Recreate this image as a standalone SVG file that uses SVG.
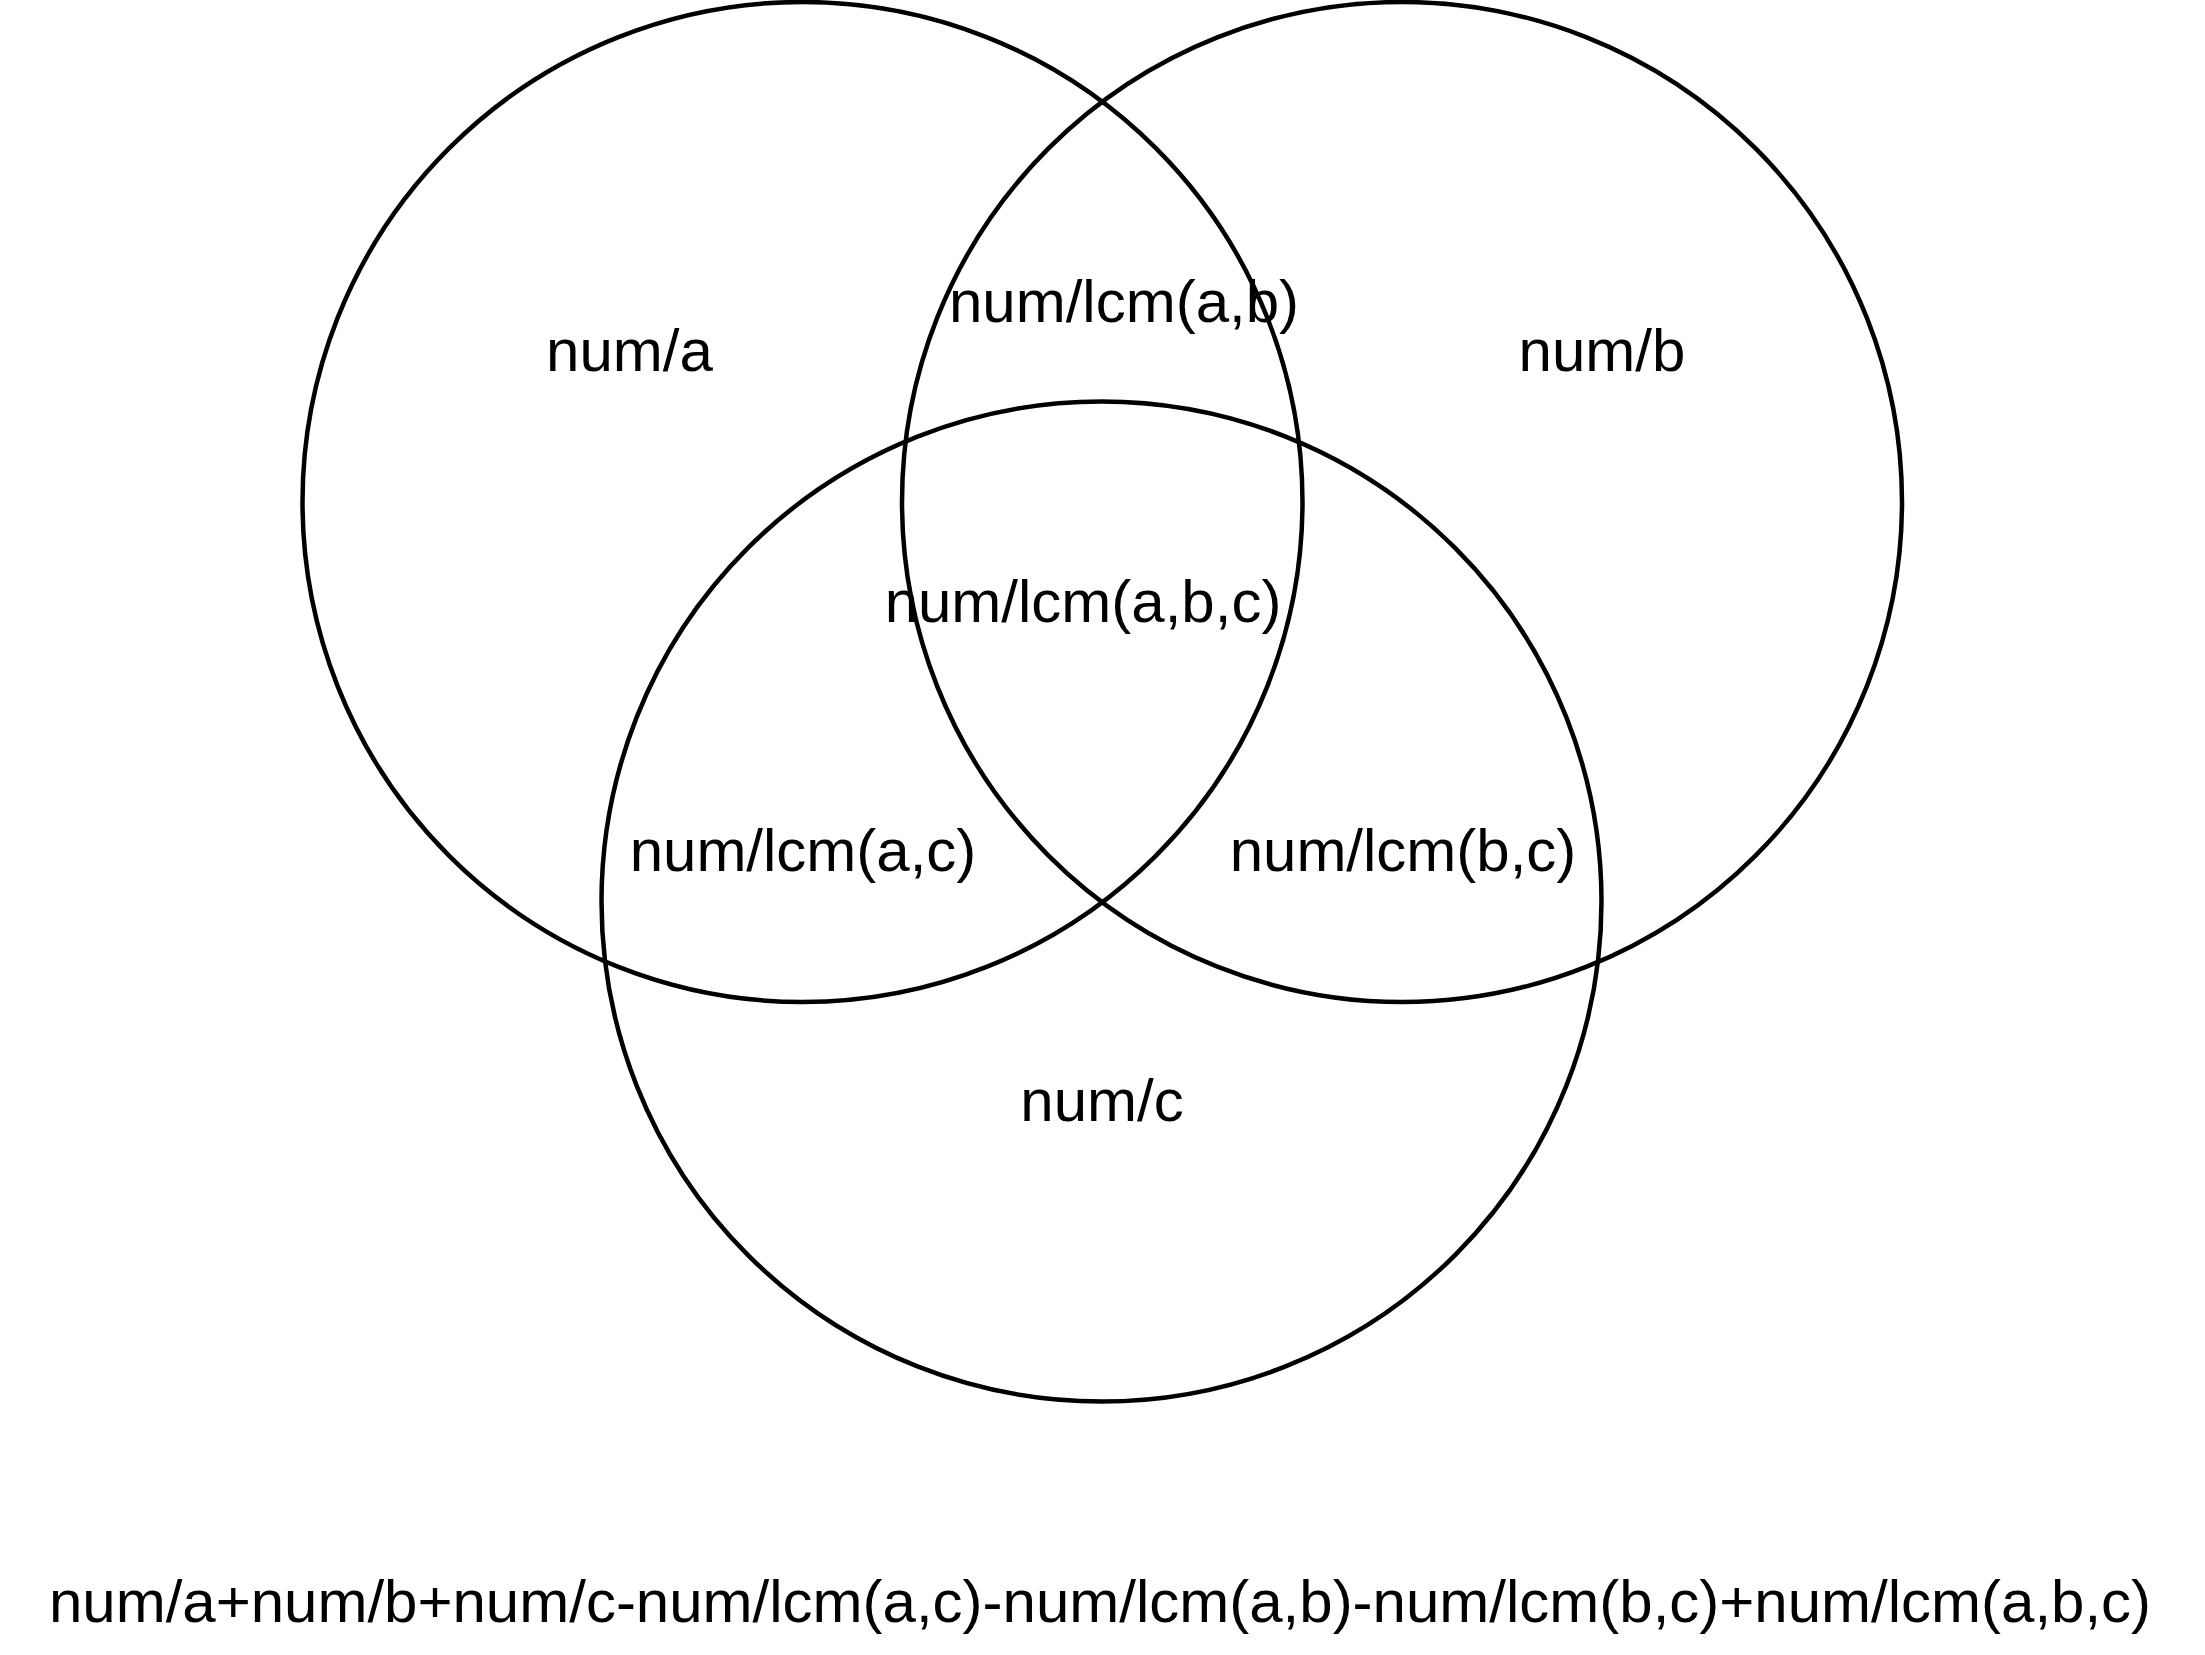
<svg xmlns="http://www.w3.org/2000/svg" width="2205" height="1655" viewBox="0 0 2205 1655">
<style>
.c{fill:none;stroke:#000;stroke-width:4.5}
.t{font-family:"Liberation Sans",Arial,sans-serif;font-size:60px;fill:#000;text-anchor:middle}
</style>
<rect width="2205" height="1655" fill="#fff"/>
<g id="setA"><circle class="c" cx="802.5" cy="502" r="500"/><text class="t" x="629.5" y="371">num/a</text></g>
<g id="setB"><circle class="c" cx="1402" cy="502" r="500"/><text class="t" x="1602" y="371">num/b</text></g>
<g id="setC"><circle class="c" cx="1101.5" cy="901.5" r="500"/><text class="t" x="1102" y="1121">num/c</text></g>
<g id="AB"><text class="t" x="1124" y="322">num/lcm(a,b)</text></g>
<g id="ABC"><text class="t" x="1083" y="622">num/lcm(a,b,c)</text></g>
<g id="AC"><text class="t" x="803" y="871">num/lcm(a,c)</text></g>
<g id="BC"><text class="t" x="1403" y="871">num/lcm(b,c)</text></g>
<g id="formula"><text class="t" x="1100" y="1622">num/a+num/b+num/c-num/lcm(a,c)-num/lcm(a,b)-num/lcm(b,c)+num/lcm(a,b,c)</text></g>
<g id="connectors"></g>
</svg>
